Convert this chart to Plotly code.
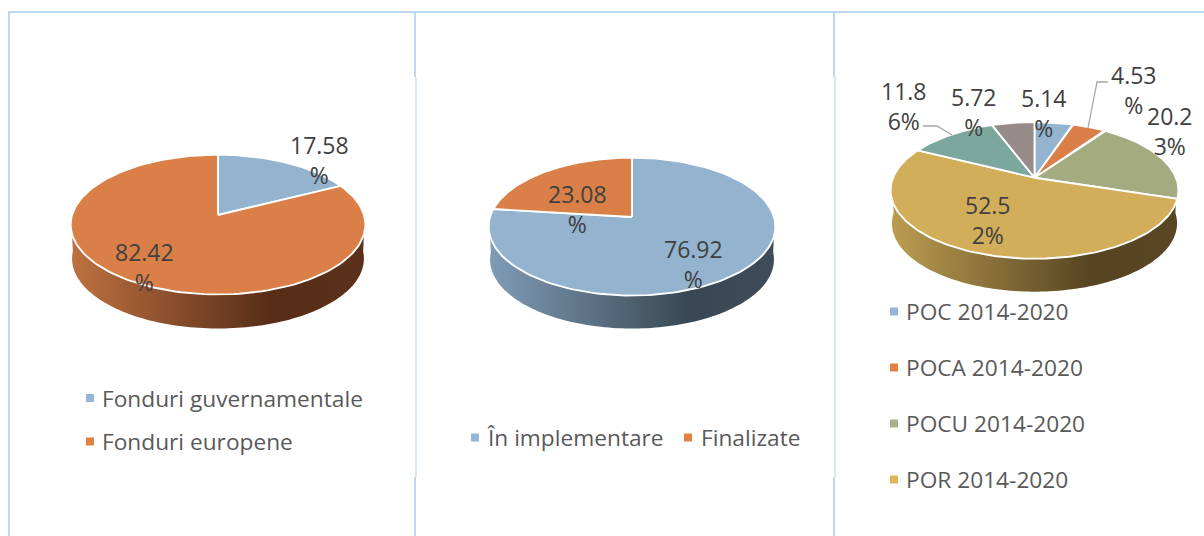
import numpy as np
import plotly.graph_objects as go

# ---- data ----
cats_funding = ["Fonduri guvernamentale", "Fonduri europene"]
vals_funding = [17.58, 82.42]
labels_funding = ["17.58<br>%", "82.42<br>%"]

cats_status = ["În implementare", "Finalizate"]
vals_status = [76.92, 23.08]
labels_status = ["76.92<br>%", "23.08<br>%"]

cats_programs = ["POC 2014-2020", "POCA 2014-2020", "POCU 2014-2020", "POR 2014-2020", "Altele 1", "Altele 2"]
vals_programs = [5.14, 4.53, 20.23, 52.52, 11.86, 5.72]
labels_programs = ["5.14<br>%", "4.53<br>%", "20.2<br>3%", "52.5<br>2%", "11.8<br>6%", "5.72<br>%"]

# ---- style ----
BLUE, ORANGE, OLIVE, GOLD, TEAL, TAUPE = "#93B3CF", "#D97F47", "#A5AB81", "#D3AE5A", "#7BA79D", "#968B89"
colors_funding = [BLUE, ORANGE]
colors_status = [BLUE, ORANGE]
colors_programs = [BLUE, ORANGE, OLIVE, GOLD, TEAL, TAUPE]
LEG = {BLUE: "#93B6D6", ORANGE: "#E08244", OLIVE: "#A9B287", GOLD: "#DFB45C"}
FONT = "Open Sans"
LABEL_SIZE = 23
LEGEND_SIZE = 22.7
BORDER = "#BDD7EE"

fig = go.Figure()


def project(theta, cx, cy, a, b, p):
    u, v = np.sin(theta), np.cos(theta)
    d = 1 + p * v
    return cx + a * u / d, cy - b * v / d


def pie(vals, colors, cx, cy, a, b, p, depth, wall_scale):
    # side wall
    th = np.linspace(np.radians(92), np.radians(268), 120)
    xs, ys = project(th, cx, cy, a * 0.99, b, p)
    xr, yr = project(np.array([th[0], th[-1]]), cx, cy, a, b, p)
    fig.add_trace(go.Scatter(
        x=np.r_[xr[0], xs, xr[1]], y=np.r_[yr[0], ys + depth, yr[1]],
        mode="none", fill="toself", hoverinfo="skip", showlegend=False,
        fillgradient=dict(type="horizontal", colorscale=wall_scale)))
    # top slices
    cum = np.r_[0, np.cumsum(vals)] / np.sum(vals) * 2 * np.pi
    for i, c in enumerate(colors):
        t = np.linspace(cum[i], cum[i + 1], 150)
        x, y = project(t, cx, cy, a, b, p)
        fig.add_trace(go.Scatter(
            x=np.r_[cx, x, cx], y=np.r_[cy, y, cy], mode="lines", fill="toself",
            fillcolor=c, line=dict(color="white", width=1.9), hoverinfo="skip", showlegend=False))


pie(vals_funding, colors_funding, 218, 215, 146, 68.6, 0.137, 34,
    [[0, "#BE7140"], [0.68, "#572D18"], [1, "#5C311B"]])
pie(vals_status, colors_status, 632, 217, 142, 67.6, 0.139, 33,
    [[0, "#7F9CB6"], [0.7, "#394854"], [1, "#3D4C58"]])
pie(vals_programs, colors_programs, 1034.5, 177.7, 141.5, 66, 0.185, 33,
    [[0, "#BB9C50"], [0.7, "#564422"], [1, "#594724"]])


def legend(items, colors, xm, xt, ys):
    for name, col, xa, xb, y in zip(items, colors, xm, xt, ys):
        fig.add_trace(go.Scatter(x=[xa], y=[y], mode="markers", hoverinfo="skip", showlegend=False,
                                 marker=dict(symbol="square", size=8, color=LEG[col], line=dict(width=0))))
        fig.add_annotation(x=xb, y=y, text=name, xanchor="left", yanchor="middle", showarrow=False,
                           borderpad=0, xshift=-1,
                           font=dict(family=FONT, size=LEGEND_SIZE, color="#595959"))


legend(cats_funding, colors_funding, [90, 90], [102, 102], [398, 441.5])
legend(cats_status, colors_status, [475, 688], [486.5, 701], [437.5, 437.5])
legend(cats_programs[:4], colors_programs[:4], [894] * 4, [905.5] * 4, [311.5, 367.5, 423.5, 479.5])


def labels(texts, xs, ys):
    for t, x, y in zip(texts, xs, ys):
        fig.add_annotation(x=x, y=y, text=t, showarrow=False, xanchor="center", yanchor="middle",
                           align="center", borderpad=0,
                           font=dict(family=FONT, size=LABEL_SIZE, color="#404040"))


labels(labels_funding, [319, 144], [160, 267])
labels(labels_status, [693, 577], [264, 209])
labels(labels_programs, [1044, 1134, 1170, 988, 904, 974], [113, 90, 131, 220, 106, 112])

# leader lines
for path in ["M1088,128 L1097,82 L1108,82", "M923,126 L937,126 L952,135"]:
    fig.add_shape(type="path", path=path, xref="x", yref="y", line=dict(color="#A6A6A6", width=1.3))

# panel borders
segs = [(8, 12, 1204, 12, 2), (9, 12, 9, 536, 2),
        (415, 12, 415, 77, 2), (416, 77, 416, 477, 1.2), (415, 477, 415, 536, 2),
        (834, 12, 834, 77, 2), (835, 77, 835, 477, 1.2), (834, 477, 834, 536, 2)]
for x0, y0, x1, y1, w in segs:
    fig.add_shape(type="line", x0=x0, y0=y0, x1=x1, y1=y1, xref="x", yref="y",
                  line=dict(color=BORDER, width=w))

fig.update_layout(
    width=1204, height=536, margin=dict(l=0, r=0, t=0, b=0),
    paper_bgcolor="white", plot_bgcolor="white", showlegend=False,
    xaxis=dict(range=[0, 1204], visible=False, fixedrange=True),
    yaxis=dict(range=[536, 0], visible=False, fixedrange=True),
)
fig.write_html("out.html", config={"displayModeBar": False},
               post_script="document.body.style.margin='0';document.body.style.overflow='hidden';")
